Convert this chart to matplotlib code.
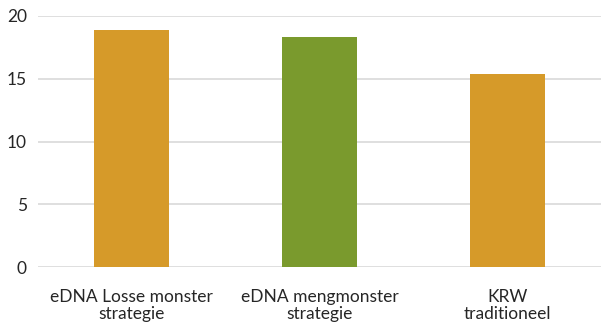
import matplotlib
matplotlib.use("Agg")
import matplotlib.pyplot as plt

categories = ["eDNA Losse monster\nstrategie", "eDNA mengmonster\nstrategie", "KRW\ntraditioneel"]
values = [18.9, 18.3, 15.4]
colors = ["#D69A29", "#7A9A2D", "#D69A29"]
yticks = [0, 5, 10, 15, 20]

plt.rcParams["font.family"] = ["Lato", "DejaVu Sans"]

fig = plt.figure(figsize=(6.01, 3.25), dpi=100)
ax = fig.add_axes([38 / 601, 1 - 267 / 325, 1 - 38 / 601, (267 - 16) / 325])

x = range(len(categories))
ax.bar(x, values, width=0.4, color=colors, zorder=3)

ax.set_xlim(-0.5, 2.5)
ax.set_ylim(0, 20)
ax.set_yticks(yticks)
ax.set_yticklabels([str(t) for t in yticks])
ax.set_xticks(list(x))
ax.set_xticklabels(categories, linespacing=1.05)

ax.yaxis.grid(True, color="#D9D9D9", linewidth=1.2, zorder=0)
ax.set_axisbelow(True)
for s in ax.spines.values():
    s.set_visible(False)
ax.tick_params(axis="both", length=0, labelsize=12.5, colors="#262626")
ax.tick_params(axis="y", pad=8)
ax.tick_params(axis="x", pad=16)

fig.savefig("out.png", dpi=100)
